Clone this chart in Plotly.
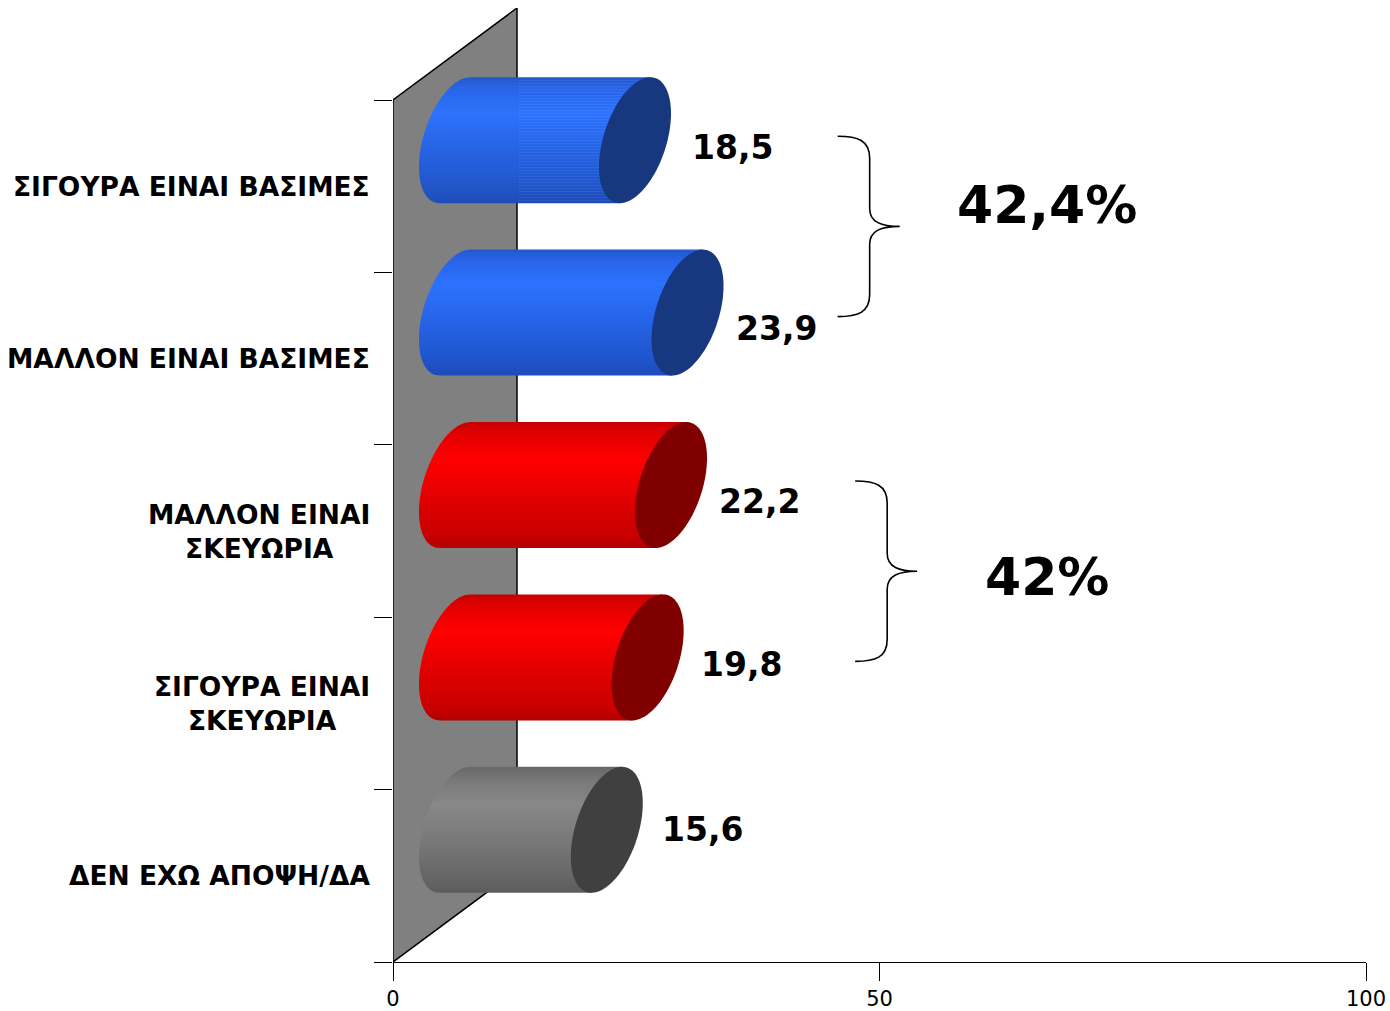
import numpy as np
import plotly.graph_objects as go

# ---- data ----
categories = [
    "ΣΙΓΟΥΡΑ ΕΙΝΑΙ ΒΑΣΙΜΕΣ",
    "ΜΑΛΛΟΝ ΕΙΝΑΙ ΒΑΣΙΜΕΣ",
    "ΜΑΛΛΟΝ ΕΙΝΑΙ<br>ΣΚΕΥΩΡΙΑ",
    "ΣΙΓΟΥΡΑ ΕΙΝΑΙ<br>ΣΚΕΥΩΡΙΑ",
    "ΔΕΝ ΕΧΩ ΑΠΟΨΗ/ΔΑ",
]
values = [18.5, 23.9, 22.2, 19.8, 15.6]
value_labels = ["18,5", "23,9", "22,2", "19,8", "15,6"]
groups = [[0, 1], [2, 3]]
group_labels = ["42,4%", "42%"]
x_ticks = [0, 50, 100]

# ---- styling ----
bar_style = ["blue", "blue", "red", "red", "gray"]
palettes = {
    "blue": dict(stops=[(0.0, (34, 86, 205)), (0.08, (40, 100, 232)), (0.28, (44, 114, 255)),
                        (0.55, (38, 100, 232)), (0.85, (32, 86, 205)), (1.0, (28, 76, 185))],
                 cap="#17387f"),
    "red": dict(stops=[(0.0, (198, 0, 0)), (0.1, (228, 0, 0)), (0.3, (255, 0, 0)),
                       (0.6, (226, 0, 0)), (0.9, (200, 0, 0)), (1.0, (180, 0, 0))],
                cap="#800000"),
    "gray": dict(stops=[(0.0, (104, 104, 104)), (0.12, (122, 122, 122)), (0.3, (136, 136, 136)),
                        (0.6, (120, 120, 120)), (0.9, (100, 100, 100)), (1.0, (92, 92, 92))],
                 cap="#404040"),
}
label_shift = [(55, -7), (46, -16), (46, -16), (51, -7), (53, 0)]   # px (right, up)
brace_x = [45.7, 47.5]
group_text_x = 67.2
group_text_shift = [21, -6]

FONT = "DejaVu Sans"

# ---- geometry of the figure ----
W, H = 1390, 1011
ML, MR, MT, MB = 393, 24, 8, 49
plot_w = W - ML - MR
plot_h = H - MT - MB
n = len(categories)
depth_px = (124.0, 92.0)                 # oblique depth of the back wall
px_x = plot_w / 100.0                    # pixels per x unit
pitch = (plot_h - depth_px[1]) / n       # pixels per category
depth_x = depth_px[0] / px_x
depth_y = depth_px[1] / pitch
y_top = n + depth_y

# cylinder end-cap ellipse (pixel units)
A = 36.0
VMAX = 63.0
p = depth_px[1] / depth_px[0]
B = p * A
R = np.sqrt(VMAX ** 2 - B ** 2)
a2 = 1.0 / A ** 2 + p ** 2 / R ** 2


def chord(v):
    """mid x and half-width of the cap ellipse at height v (px, up positive)."""
    v = np.asarray(v, dtype=float)
    xmid = p * v / (R ** 2 * a2)
    disc = np.clip((2 * p * v / R ** 2) ** 2 - 4 * a2 * (v ** 2 / R ** 2 - 1), 0, None)
    half = np.sqrt(disc) / (2 * a2)
    return xmid, half


def shade(stops, s):
    for (s0, c0), (s1, c1) in zip(stops[:-1], stops[1:]):
        if s0 <= s <= s1:
            t = (s - s0) / (s1 - s0) if s1 > s0 else 0
            c = [round(c0[k] + (c1[k] - c0[k]) * t) for k in range(3)]
            return "rgb(%d,%d,%d)" % tuple(c)
    return "rgb(%d,%d,%d)" % stops[-1][1]


def path_from(pts):
    return "M " + " L ".join(f"{x:.4f},{y:.4f}" for x, y in pts) + " Z"


shapes = []

# back wall
wall = [(0, 0), (0, n), (depth_x, n + depth_y), (depth_x, depth_y)]
shapes.append(dict(type="path", path=path_from(wall), xref="x", yref="y",
                   fillcolor="#808080", line=dict(color="black", width=1.5), layer="above"))

# cylinders
N_BANDS = 42
bar_centres = []
for i, (val, sty) in enumerate(zip(values, bar_style)):
    cy = (n - 0.5 - i) + depth_y / 2
    xl = depth_x / 2
    xr = xl + val
    bar_centres.append((xr, cy))
    pal = palettes[sty]
    edges = np.linspace(VMAX, -VMAX, N_BANDS + 1)
    for b in range(N_BANDS):
        v0, v1 = edges[b], max(edges[b + 1] - 0.6, -VMAX)
        vs = np.linspace(v0, v1, 6)
        xm, hw = chord(vs)
        left = [(xl + (xm[k] - hw[k]) / px_x, cy + vs[k] / pitch) for k in range(len(vs))]
        right = [(xr + xm[k] / px_x, cy + vs[k] / pitch) for k in (len(vs) - 1, 0)]
        s = (VMAX - (v0 + edges[b + 1]) / 2) / (2 * VMAX)
        shapes.append(dict(type="path", path=path_from(left + right), xref="x", yref="y",
                           fillcolor=shade(pal["stops"], s), line=dict(width=0), layer="above"))
    t = np.linspace(0, 2 * np.pi, 90, endpoint=False)
    ex = A * np.sin(t)
    ey = R * np.cos(t) + B * np.sin(t)
    cap = [(xr + ex[k] / px_x, cy + ey[k] / pitch) for k in range(len(t))]
    shapes.append(dict(type="path", path=path_from(cap), xref="x", yref="y",
                       fillcolor=pal["cap"], line=dict(width=0), layer="above"))


# curly braces
def brace_path(x0, ytop_d, height_px, width_px=62.0, stem=32.0):
    Hh = height_px
    m = Hh / 2

    def P(px, py):
        return f"{x0 + px / px_x:.4f},{ytop_d - py / pitch:.4f}"

    return (f"M {P(0, 0)} C {P(20, 0)} {P(stem, 4)} {P(stem, 22)} "
            f"L {P(stem, m - 18)} C {P(stem, m - 4)} {P(stem + 12, m)} {P(width_px, m)} "
            f"C {P(stem + 12, m)} {P(stem, m + 4)} {P(stem, m + 18)} "
            f"L {P(stem, Hh - 22)} C {P(stem, Hh - 4)} {P(20, Hh)} {P(0, Hh)}")


annotations = []
for g, (members, bx) in enumerate(zip(groups, brace_x)):
    y_hi = bar_centres[members[0]][1] + 4 / pitch
    y_lo = bar_centres[members[-1]][1] - 4 / pitch
    h_px = (y_hi - y_lo) * pitch
    shapes.append(dict(type="path", path=brace_path(bx, y_hi, h_px), xref="x", yref="y",
                       line=dict(color="black", width=1.6), layer="above"))
    annotations.append(dict(x=group_text_x, y=(y_hi + y_lo) / 2, xref="x", yref="y",
                            text=group_labels[g], showarrow=False, xanchor="center",
                            yanchor="middle", yshift=group_text_shift[g],
                            font=dict(family=FONT, size=52, color="black", weight="bold")))

# value labels
for i, (xr, cy) in enumerate(bar_centres):
    dx, dy = label_shift[i]
    annotations.append(dict(x=xr, y=cy, xref="x", yref="y", text=value_labels[i],
                            showarrow=False, xanchor="left", yanchor="middle",
                            xshift=dx, yshift=dy,
                            font=dict(family=FONT, size=33, color="black", weight="bold")))

# category labels
for i, lab in enumerate(categories):
    annotations.append(dict(x=0, y=n - 0.5 - i, xref="x", yref="y", text=lab,
                            showarrow=False, xanchor="right", yanchor="middle",
                            align="center", xshift=-21,
                            font=dict(family=FONT, size=26.5, color="black", weight="bold")))

fig = go.Figure()
fig.add_trace(go.Scatter(x=[None], y=[None], showlegend=False, hoverinfo="skip"))
fig.update_layout(
    width=W, height=H, autosize=False,
    margin=dict(l=ML, r=MR, t=MT, b=MB, pad=0, autoexpand=False),
    paper_bgcolor="white", plot_bgcolor="white",
    showlegend=False,
    shapes=shapes, annotations=annotations,
    xaxis=dict(range=[0, 100], tickvals=x_ticks, ticktext=[str(v) for v in x_ticks],
               ticks="outside", ticklen=18, tickwidth=1, tickcolor="black",
               showline=True, linecolor="black", linewidth=1, automargin=False,
               showgrid=False, zeroline=False, fixedrange=True,
               tickfont=dict(family=FONT, size=21, color="black")),
    yaxis=dict(range=[0, y_top], tickvals=list(range(n + 1)), ticktext=[""] * (n + 1),
               ticks="outside", ticklen=18, tickwidth=1, tickcolor="black", automargin=False,
               showline=False, showgrid=False, zeroline=False, fixedrange=True),
)

fig.write_html("out.html")
